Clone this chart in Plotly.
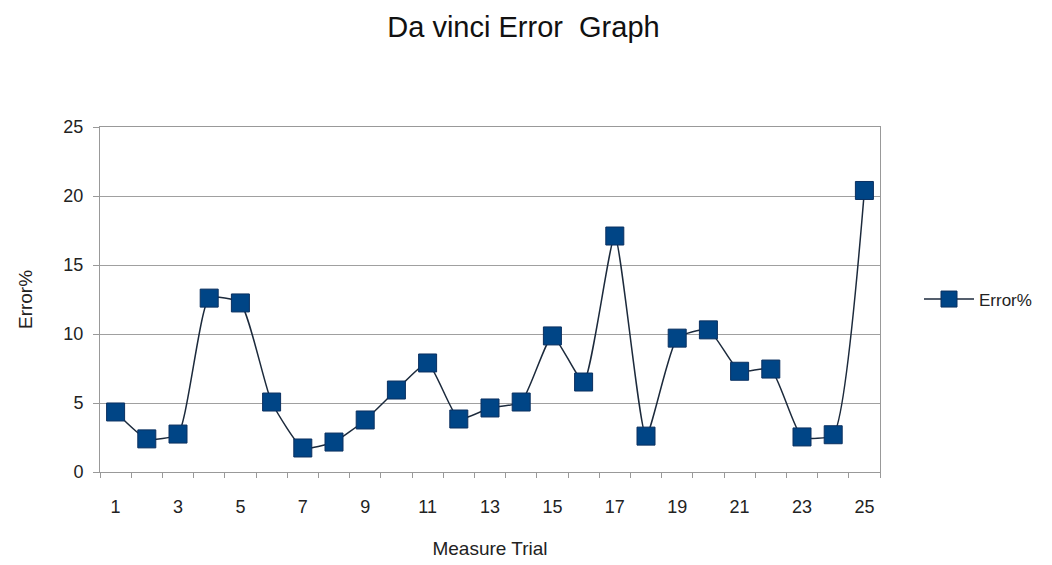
import plotly.graph_objects as go

trials = list(range(1, 26))
error_pct = [4.35, 2.4, 2.75, 12.6, 12.25, 5.07, 1.74, 2.17, 3.77, 5.94,
             7.9, 3.84, 4.64, 5.07, 9.86, 6.52, 17.1, 2.6, 9.7, 10.3,
             7.3, 7.46, 2.54, 2.7, 20.4]
x_labels = [t for t in trials if t % 2 == 1]
y_ticks = [0, 5, 10, 15, 20, 25]

fig = go.Figure()
fig.add_trace(go.Scatter(
    x=trials, y=error_pct, name="Error%", mode="lines+markers",
    line=dict(color="#1c2a3c", width=1.5, shape="spline", smoothing=0.5),
    marker=dict(symbol="square", size=18, color="#004586",
                line=dict(color="#0a3060", width=1)),
))

font = "Liberation Sans, Arial, sans-serif"
fig.update_layout(
    width=1052, height=565,
    paper_bgcolor="white", plot_bgcolor="white",
    margin=dict(l=92, r=180, t=119, b=101),
    title=dict(text="Da vinci Error  Graph", x=0.49, xanchor="center",
               y=0.966, yanchor="middle",
               font=dict(family=font, size=29, color="#111")),
    font=dict(family=font, color="#222"),
    showlegend=True,
    legend=dict(x=1.05, y=0.5, xanchor="left", yanchor="middle",
                itemwidth=50,
                font=dict(size=17, color="#222"), bgcolor="rgba(0,0,0,0)"),
    xaxis=dict(range=[0.5, 25.5], tickvals=x_labels,
               ticks="", showgrid=False, showline=True, linecolor="#999",
               mirror=True, ticklabelstandoff=18,
               minor=dict(tick0=0.5, dtick=1, ticks="outside", ticklen=5,
                          tickcolor="#999", showgrid=False),
               tickfont=dict(size=18, color="#222"),
               title=dict(text="Measure Trial", font=dict(size=19, color="#222"), standoff=26),
               zeroline=False),
    yaxis=dict(range=[0, 25], tickvals=y_ticks, ticks="outside", ticklen=6,
               tickcolor="#999", showgrid=True, gridcolor="#a0a0a0", gridwidth=1,
               showline=True, linecolor="#999", mirror=True, ticklabelstandoff=6,
               tickfont=dict(size=18, color="#222"),
               title=dict(text="Error%", font=dict(size=19, color="#222"), standoff=25),
               zeroline=False),
)

fig.write_html("out.html")
